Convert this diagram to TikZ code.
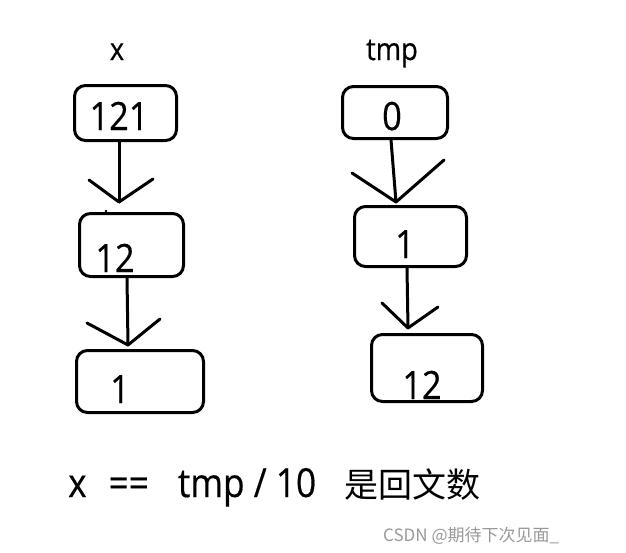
\documentclass[tikz,border=0pt]{standalone}
\usepackage{fontspec}
\setmainfont[FakeStretch=0.88,FakeBold=0.4]{Open Sans}
\newfontfamily\cjkfont{Noto Sans CJK SC}
\begin{document}
\begin{tikzpicture}[x=1pt,y=-1pt,
  box/.style={draw=black,line width=3pt,rounded corners=11pt,inner sep=0pt},
  num/.style={anchor=base,inner sep=0pt,font=\fontsize{39}{39}\selectfont},
  title/.style={anchor=base,inner sep=0pt,font=\fontsize{31}{31}\selectfont},
  conn/.style={line width=3pt,line cap=round,line join=round}]
\useasboundingbox (0,0) rectangle (626,552);
% titles
\node[title] (tx) at (117,60) {x};
\node[title] (ttmp) at (392,60) {tmp};
% left column boxes
\node[box,minimum width=102pt,minimum height=55pt] (b121) at (125.5,113) {};
\node[box,minimum width=104pt,minimum height=63pt] (b12) at (131.5,245) {};
\node[box,minimum width=127pt,minimum height=62pt] (b1) at (140,381.5) {};
\node[num] (t121) at (119,130) {121};
\node[num] (t12) at (115,272) {12};
\node[num] (t1) at (120,403) {1};
% right column boxes
\node[box,minimum width=105pt,minimum height=52pt] (b0) at (395,112.5) {};
\node[box,minimum width=112pt,minimum height=60pt] (r1) at (410.5,236.5) {};
\node[box,minimum width=111pt,minimum height=67pt] (r12) at (427,368) {};
\node[num] (t0) at (392,130) {0};
\node[num] (tr1) at (405,258) {1};
\node[num] (tr12) at (422,399) {12};
% arrow tips and wings
\coordinate (tA) at (119,202); \coordinate (aL) at (89,180); \coordinate (aR) at (153,179);
\coordinate (tB) at (128,345); \coordinate (bL) at (87,323); \coordinate (bR) at (160,319);
\coordinate (tC) at (396,202); \coordinate (cL) at (352,173); \coordinate (cR) at (444,160);
\coordinate (tD) at (408,328); \coordinate (dL) at (382,303); \coordinate (dR) at (438,307);
% connectors
\draw[conn] ([xshift=-6.5pt]b121.south) -- (tA);
\draw[conn] (aL) -- (tA) -- (aR);
\draw[conn] ([xshift=-4.5pt]b12.south) -- (tB);
\draw[conn] (bL) -- (tB) -- (bR);
\draw[conn] ([xshift=-4pt]b0.south) -- (tC);
\draw[conn] (cL) -- (tC) -- (cR);
\draw[conn] ([xshift=-3.5pt]r1.south) -- (tD);
\draw[conn] (dL) -- (tD) -- (dR);
\fill (106,211) circle (1.3pt);
% bottom text
\node[anchor=base west,inner sep=0pt,font=\fontsize{40}{40}\selectfont] (eq) at (68,497)
  {x\hspace{22pt}==\hspace{29pt}tmp / 10\hspace{28pt}{\cjkfont\fontsize{34}{34}\selectfont 是回文数}};
\node[anchor=base west,inner sep=0pt,text=black!40,font=\cjkfont\fontsize{17}{17}\selectfont] (wm) at (383,541) {CSDN @期待下次见面\_};
\end{tikzpicture}
\end{document}
